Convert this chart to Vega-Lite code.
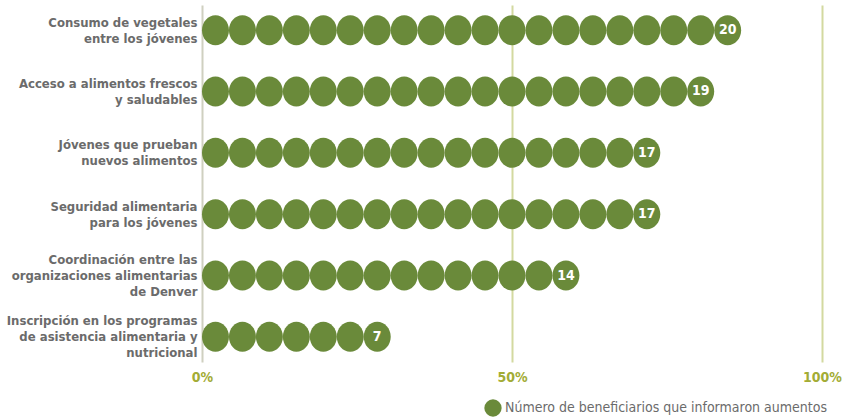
{
  "$schema": "https://vega.github.io/schema/vega-lite/v6.json",
  "width": 620,
  "height": 357,
  "autosize": {"type": "none"},
  "padding": {"left": 202, "top": 5, "right": 32, "bottom": 55},
  "background": "white",
  "config": {
    "view": {"stroke": null},
    "font": "'DejaVu Sans Condensed', 'Roboto', sans-serif"
  },
  "datasets": {
    "dots": [
      {"c": "Consumo de vegetales\nentre los jóvenes", "n": 1},
      {"c": "Consumo de vegetales\nentre los jóvenes", "n": 2},
      {"c": "Consumo de vegetales\nentre los jóvenes", "n": 3},
      {"c": "Consumo de vegetales\nentre los jóvenes", "n": 4},
      {"c": "Consumo de vegetales\nentre los jóvenes", "n": 5},
      {"c": "Consumo de vegetales\nentre los jóvenes", "n": 6},
      {"c": "Consumo de vegetales\nentre los jóvenes", "n": 7},
      {"c": "Consumo de vegetales\nentre los jóvenes", "n": 8},
      {"c": "Consumo de vegetales\nentre los jóvenes", "n": 9},
      {"c": "Consumo de vegetales\nentre los jóvenes", "n": 10},
      {"c": "Consumo de vegetales\nentre los jóvenes", "n": 11},
      {"c": "Consumo de vegetales\nentre los jóvenes", "n": 12},
      {"c": "Consumo de vegetales\nentre los jóvenes", "n": 13},
      {"c": "Consumo de vegetales\nentre los jóvenes", "n": 14},
      {"c": "Consumo de vegetales\nentre los jóvenes", "n": 15},
      {"c": "Consumo de vegetales\nentre los jóvenes", "n": 16},
      {"c": "Consumo de vegetales\nentre los jóvenes", "n": 17},
      {"c": "Consumo de vegetales\nentre los jóvenes", "n": 18},
      {"c": "Consumo de vegetales\nentre los jóvenes", "n": 19},
      {"c": "Consumo de vegetales\nentre los jóvenes", "n": 20},
      {"c": "Acceso a alimentos frescos\ny saludables", "n": 1},
      {"c": "Acceso a alimentos frescos\ny saludables", "n": 2},
      {"c": "Acceso a alimentos frescos\ny saludables", "n": 3},
      {"c": "Acceso a alimentos frescos\ny saludables", "n": 4},
      {"c": "Acceso a alimentos frescos\ny saludables", "n": 5},
      {"c": "Acceso a alimentos frescos\ny saludables", "n": 6},
      {"c": "Acceso a alimentos frescos\ny saludables", "n": 7},
      {"c": "Acceso a alimentos frescos\ny saludables", "n": 8},
      {"c": "Acceso a alimentos frescos\ny saludables", "n": 9},
      {"c": "Acceso a alimentos frescos\ny saludables", "n": 10},
      {"c": "Acceso a alimentos frescos\ny saludables", "n": 11},
      {"c": "Acceso a alimentos frescos\ny saludables", "n": 12},
      {"c": "Acceso a alimentos frescos\ny saludables", "n": 13},
      {"c": "Acceso a alimentos frescos\ny saludables", "n": 14},
      {"c": "Acceso a alimentos frescos\ny saludables", "n": 15},
      {"c": "Acceso a alimentos frescos\ny saludables", "n": 16},
      {"c": "Acceso a alimentos frescos\ny saludables", "n": 17},
      {"c": "Acceso a alimentos frescos\ny saludables", "n": 18},
      {"c": "Acceso a alimentos frescos\ny saludables", "n": 19},
      {"c": "Jóvenes que prueban\nnuevos alimentos", "n": 1},
      {"c": "Jóvenes que prueban\nnuevos alimentos", "n": 2},
      {"c": "Jóvenes que prueban\nnuevos alimentos", "n": 3},
      {"c": "Jóvenes que prueban\nnuevos alimentos", "n": 4},
      {"c": "Jóvenes que prueban\nnuevos alimentos", "n": 5},
      {"c": "Jóvenes que prueban\nnuevos alimentos", "n": 6},
      {"c": "Jóvenes que prueban\nnuevos alimentos", "n": 7},
      {"c": "Jóvenes que prueban\nnuevos alimentos", "n": 8},
      {"c": "Jóvenes que prueban\nnuevos alimentos", "n": 9},
      {"c": "Jóvenes que prueban\nnuevos alimentos", "n": 10},
      {"c": "Jóvenes que prueban\nnuevos alimentos", "n": 11},
      {"c": "Jóvenes que prueban\nnuevos alimentos", "n": 12},
      {"c": "Jóvenes que prueban\nnuevos alimentos", "n": 13},
      {"c": "Jóvenes que prueban\nnuevos alimentos", "n": 14},
      {"c": "Jóvenes que prueban\nnuevos alimentos", "n": 15},
      {"c": "Jóvenes que prueban\nnuevos alimentos", "n": 16},
      {"c": "Jóvenes que prueban\nnuevos alimentos", "n": 17},
      {"c": "Seguridad alimentaria\npara los jóvenes", "n": 1},
      {"c": "Seguridad alimentaria\npara los jóvenes", "n": 2},
      {"c": "Seguridad alimentaria\npara los jóvenes", "n": 3},
      {"c": "Seguridad alimentaria\npara los jóvenes", "n": 4},
      {"c": "Seguridad alimentaria\npara los jóvenes", "n": 5},
      {"c": "Seguridad alimentaria\npara los jóvenes", "n": 6},
      {"c": "Seguridad alimentaria\npara los jóvenes", "n": 7},
      {"c": "Seguridad alimentaria\npara los jóvenes", "n": 8},
      {"c": "Seguridad alimentaria\npara los jóvenes", "n": 9},
      {"c": "Seguridad alimentaria\npara los jóvenes", "n": 10},
      {"c": "Seguridad alimentaria\npara los jóvenes", "n": 11},
      {"c": "Seguridad alimentaria\npara los jóvenes", "n": 12},
      {"c": "Seguridad alimentaria\npara los jóvenes", "n": 13},
      {"c": "Seguridad alimentaria\npara los jóvenes", "n": 14},
      {"c": "Seguridad alimentaria\npara los jóvenes", "n": 15},
      {"c": "Seguridad alimentaria\npara los jóvenes", "n": 16},
      {"c": "Seguridad alimentaria\npara los jóvenes", "n": 17},
      {"c": "Coordinación entre las\norganizaciones alimentarias\nde Denver", "n": 1},
      {"c": "Coordinación entre las\norganizaciones alimentarias\nde Denver", "n": 2},
      {"c": "Coordinación entre las\norganizaciones alimentarias\nde Denver", "n": 3},
      {"c": "Coordinación entre las\norganizaciones alimentarias\nde Denver", "n": 4},
      {"c": "Coordinación entre las\norganizaciones alimentarias\nde Denver", "n": 5},
      {"c": "Coordinación entre las\norganizaciones alimentarias\nde Denver", "n": 6},
      {"c": "Coordinación entre las\norganizaciones alimentarias\nde Denver", "n": 7},
      {"c": "Coordinación entre las\norganizaciones alimentarias\nde Denver", "n": 8},
      {"c": "Coordinación entre las\norganizaciones alimentarias\nde Denver", "n": 9},
      {"c": "Coordinación entre las\norganizaciones alimentarias\nde Denver", "n": 10},
      {"c": "Coordinación entre las\norganizaciones alimentarias\nde Denver", "n": 11},
      {"c": "Coordinación entre las\norganizaciones alimentarias\nde Denver", "n": 12},
      {"c": "Coordinación entre las\norganizaciones alimentarias\nde Denver", "n": 13},
      {"c": "Coordinación entre las\norganizaciones alimentarias\nde Denver", "n": 14},
      {"c": "Inscripción en los programas\nde asistencia alimentaria y\nnutricional", "n": 1},
      {"c": "Inscripción en los programas\nde asistencia alimentaria y\nnutricional", "n": 2},
      {"c": "Inscripción en los programas\nde asistencia alimentaria y\nnutricional", "n": 3},
      {"c": "Inscripción en los programas\nde asistencia alimentaria y\nnutricional", "n": 4},
      {"c": "Inscripción en los programas\nde asistencia alimentaria y\nnutricional", "n": 5},
      {"c": "Inscripción en los programas\nde asistencia alimentaria y\nnutricional", "n": 6},
      {"c": "Inscripción en los programas\nde asistencia alimentaria y\nnutricional", "n": 7}
    ],
    "totals": [
      {"c": "Consumo de vegetales\nentre los jóvenes", "total": 20},
      {"c": "Acceso a alimentos frescos\ny saludables", "total": 19},
      {"c": "Jóvenes que prueban\nnuevos alimentos", "total": 17},
      {"c": "Seguridad alimentaria\npara los jóvenes", "total": 17},
      {"c": "Coordinación entre las\norganizaciones alimentarias\nde Denver", "total": 14},
      {"c": "Inscripción en los programas\nde asistencia alimentaria y\nnutricional", "total": 7}
    ]
  },
  "encoding": {
    "y": {
      "field": "c",
      "type": "nominal",
      "sort": null,
      "title": null,
      "scale": {"type": "point", "padding": 0.41},
      "axis": {
        "domain": false,
        "ticks": false,
        "labelPadding": 5,
        "labelExpr": "split(datum.value, '\\n')",
        "labelOffset": {"condition": {"test": "indexof(datum.value, '\\n') != lastindexof(datum.value, '\\n')", "value": -16}, "value": -8},
        "labelFont": "'DejaVu Sans Condensed', 'Roboto', sans-serif",
        "labelFontSize": 13,
        "labelFontWeight": "bold",
        "labelLineHeight": 16,
        "labelColor": "#6b6b6b",
        "labelLimit": 0
      }
    }
  },
  "layer": [
    {
      "data": {"name": "dots"},
      "mark": {
        "type": "point",
        "filled": true,
        "opacity": 1,
        "shape": "M-1,0A1,1.11,0,1,1,1,0A1,1.11,0,1,1,-1,0Z",
        "size": 729,
        "strokeWidth": 0
      },
      "encoding": {
        "x": {
          "field": "n",
          "type": "quantitative",
          "title": null,
          "scale": {"domain": [0.5, 23.5], "nice": false, "zero": false},
          "axis": {
            "values": [0.5, 12, 23.5],
            "labelExpr": "datum.value < 1 ? '0%' : datum.value < 20 ? '50%' : '100%'",
            "labelFlush": false,
            "domain": false,
            "ticks": false,
            "grid": true,
            "gridColor": {"condition": {"test": "datum.value < 1", "value": "#cfd0c0"}, "value": "#d3d9a0"},
            "gridWidth": 2,
            "labelFont": "'DejaVu Sans Condensed', 'Roboto', sans-serif",
            "labelFontSize": 14,
            "labelFontWeight": "bold",
            "labelColor": "#a3ac35",
            "labelPadding": 8
          }
        },
        "color": {
          "datum": "Número de beneficiarios que informaron aumentos",
          "type": "nominal",
          "scale": {"range": ["#6a8a3a"]},
          "legend": {
            "title": null,
            "orient": "none",
            "legendX": 282,
            "legendY": 394,
            "symbolType": "circle",
            "symbolSize": 300,
            "symbolOpacity": 1,
            "symbolStrokeWidth": 0,
            "labelFont": "'DejaVu Sans Condensed', 'Roboto', sans-serif",
            "labelFontSize": 14,
            "labelColor": "#6b6b6b",
            "labelOffset": 3,
            "labelLimit": 0
          }
        }
      }
    },
    {
      "data": {"name": "totals"},
      "mark": {
        "type": "text",
        "color": "white",
        "fontWeight": "bold",
        "fontSize": 14,
        "font": "'DejaVu Sans Condensed', 'Roboto', sans-serif",
        "align": "center",
        "baseline": "middle"
      },
      "encoding": {
        "x": {"field": "total", "type": "quantitative"},
        "text": {"field": "total", "type": "quantitative"}
      }
    }
  ]
}
